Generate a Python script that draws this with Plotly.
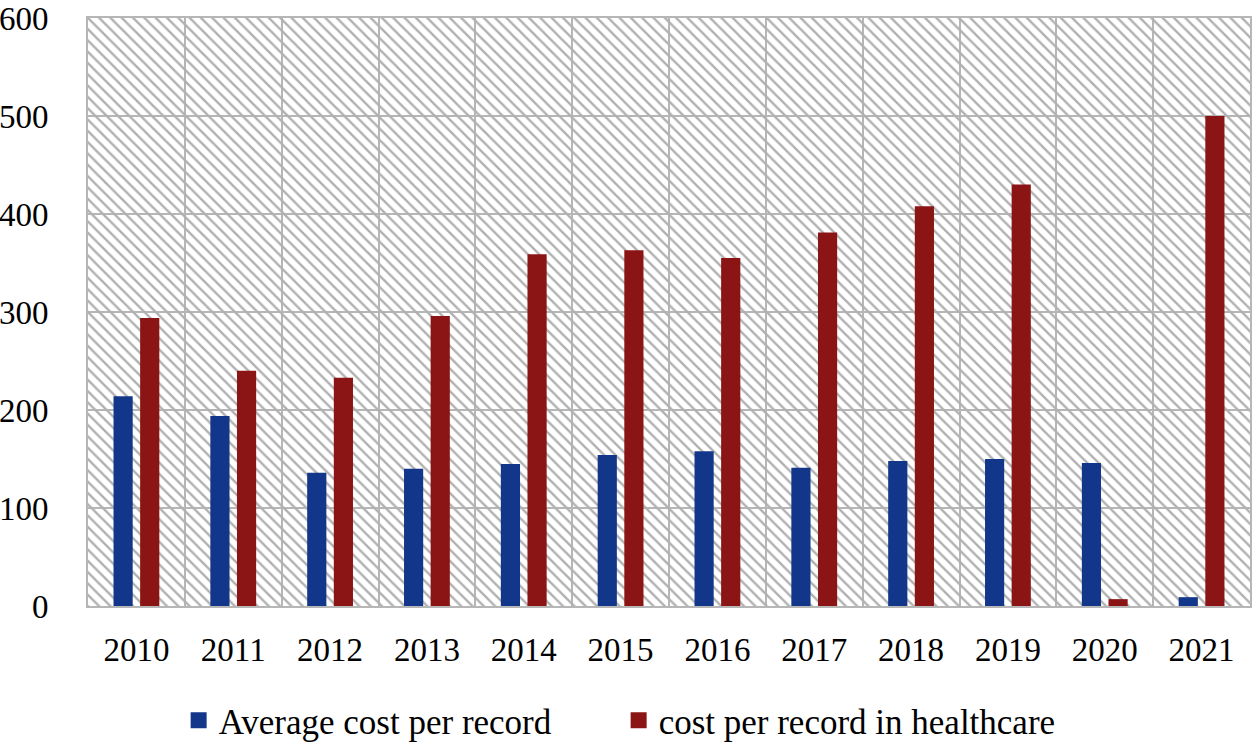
import plotly.graph_objects as go

years = ["2010", "2011", "2012", "2013", "2014", "2015", "2016", "2017", "2018", "2019", "2020", "2021"]
avg_cost = [214, 194, 136, 140, 145, 154, 158, 141, 148, 150, 146, 9]
health_cost = [294, 240, 233, 296, 359, 363, 355, 381, 408, 430, 7, 500]
y_ticks = [0, 100, 200, 300, 400, 500, 600]
Y_MAX = 600

BLUE = "#12378a"
RED = "#8b1414"
GRID = "#b6b6b6"
FONT = dict(family="Liberation Serif, Times New Roman, serif", size=33, color="black")
LEGEND_FONT = dict(family="Liberation Serif, Times New Roman, serif", size=35, color="black")

fig = go.Figure()

# hatched plot-area background (decoration), on hidden numeric axis
fig.add_trace(go.Bar(
    x=[0.5], y=[Y_MAX], width=[1], xaxis="x", yaxis="y",
    marker=dict(color="rgba(0,0,0,0)", line=dict(width=0),
                pattern=dict(shape="\\", fgcolor="#b0b0b0", size=8, solidity=0.3, fillmode="replace")),
    showlegend=False, hoverinfo="skip",
))

fig.add_trace(go.Bar(
    x=years, y=avg_cost, name="Average cost per record",
    marker=dict(color=BLUE, line=dict(width=0)), xaxis="x2", yaxis="y", showlegend=False,
))
fig.add_trace(go.Bar(
    x=years, y=health_cost, name="cost per record in healthcare",
    marker=dict(color=RED, line=dict(width=0)), xaxis="x2", yaxis="y", showlegend=False,
))

# legend entries with larger square keys
for name, col in [("Average cost per record", BLUE), ("cost per record in healthcare", RED)]:
    fig.add_trace(go.Scatter(
        x=[None], y=[None], mode="markers", name=name, xaxis="x2", yaxis="y",
        marker=dict(symbol="square", size=16, color=col),
    ))

fig.update_layout(
    width=1252, height=745,
    margin=dict(l=88, r=2, t=18, b=139, autoexpand=False),
    paper_bgcolor="white", plot_bgcolor="white",
    font=FONT,
    barmode="group", bargap=0.45, bargroupgap=0.28,
    xaxis=dict(range=[0, 1], visible=False, showgrid=False, fixedrange=True),
    xaxis2=dict(
        overlaying="x", anchor="y", type="category", tickson="boundaries",
        showgrid=True, gridcolor=GRID, gridwidth=2,
        showline=True, linecolor=GRID, linewidth=2, mirror=True,
        ticks="", ticklabelstandoff=13, tickfont=FONT, automargin=False,
    ),
    yaxis=dict(
        range=[0, Y_MAX], tickvals=y_ticks, showgrid=True, gridcolor=GRID, gridwidth=2,
        showline=True, linecolor=GRID, linewidth=2, mirror=True,
        ticks="", ticklabelstandoff=31, tickfont=FONT, zeroline=False, automargin=False,
    ),
    legend=dict(
        orientation="h", x=0.078, xanchor="left", yref="container", y=0.033, yanchor="middle",
        font=LEGEND_FONT, entrywidth=395, entrywidthmode="pixels",
        itemclick=False, traceorder="normal", itemsizing="trace",
    ),
)

fig.write_html("out.html", config={"displayModeBar": False},
               post_script="document.body.style.margin='0';")
